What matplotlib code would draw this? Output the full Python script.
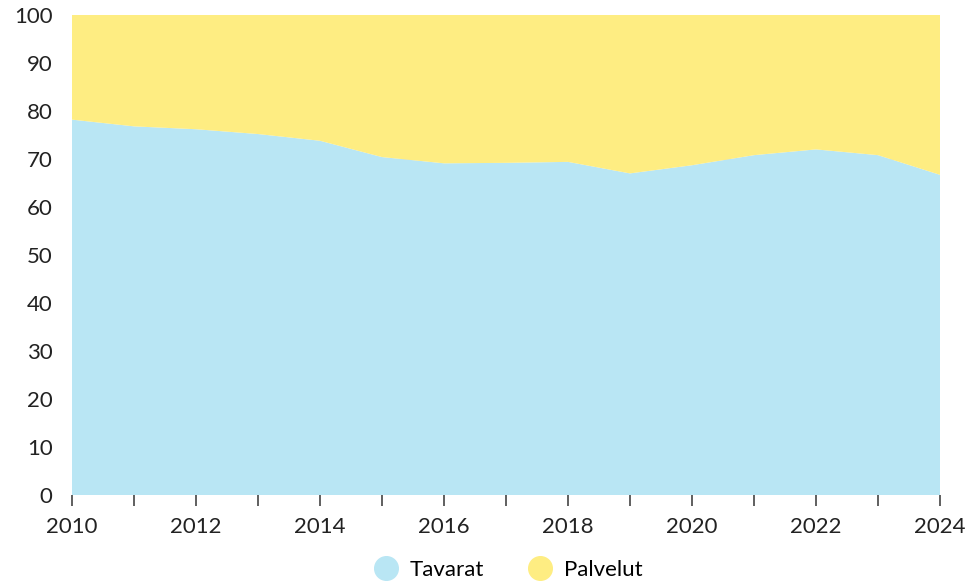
import matplotlib
matplotlib.use("Agg")
import matplotlib.pyplot as plt
from matplotlib.lines import Line2D

years = list(range(2010, 2025))
tavarat = [78.2, 76.8, 76.2, 75.2, 73.8, 70.4, 69.1, 69.2, 69.4, 67.0, 68.7, 70.8, 72.0, 70.8, 66.7]
palvelut = [100 - v for v in tavarat]
labels = ["Tavarat", "Palvelut"]
colors = ["#b9e6f4", "#feed82"]

plt.rcParams['font.family'] = ['Lato', 'DejaVu Sans']

fig = plt.figure(figsize=(9.79, 5.83), dpi=100)
ax = fig.add_axes([72 / 979, 1 - 495 / 583, (940 - 72) / 979, (495 - 15) / 583])

ax.stackplot(years, tavarat, palvelut, colors=colors, zorder=2)

ax.set_xlim(2010, 2024)
ax.set_ylim(0, 100)
ax.set_yticks(range(0, 101, 10))
ax.set_xticks(years)
ax.set_xticklabels([str(y) if y % 2 == 0 else "" for y in years])
ax.yaxis.grid(True, color="#dddddd", linewidth=1, zorder=0)
ax.set_axisbelow(True)

for s in ax.spines.values():
    s.set_visible(False)

ax.tick_params(axis="x", length=8, width=1.2, color="#444444", pad=8, labelsize=16, labelcolor="#222222")
ax.tick_params(axis="y", length=0, pad=14, labelsize=16, labelcolor="#222222")

handles = [Line2D([0], [0], marker="o", linestyle="", markersize=17, markerfacecolor=c, markeredgecolor=c) for c in colors]
fig.legend(handles, labels, loc="center", bbox_to_anchor=(0.514, 1 - 570 / 583), ncol=2, frameon=False,
           fontsize=16, handletextpad=0.1, columnspacing=1.5)

fig.savefig("out.png", dpi=100)
